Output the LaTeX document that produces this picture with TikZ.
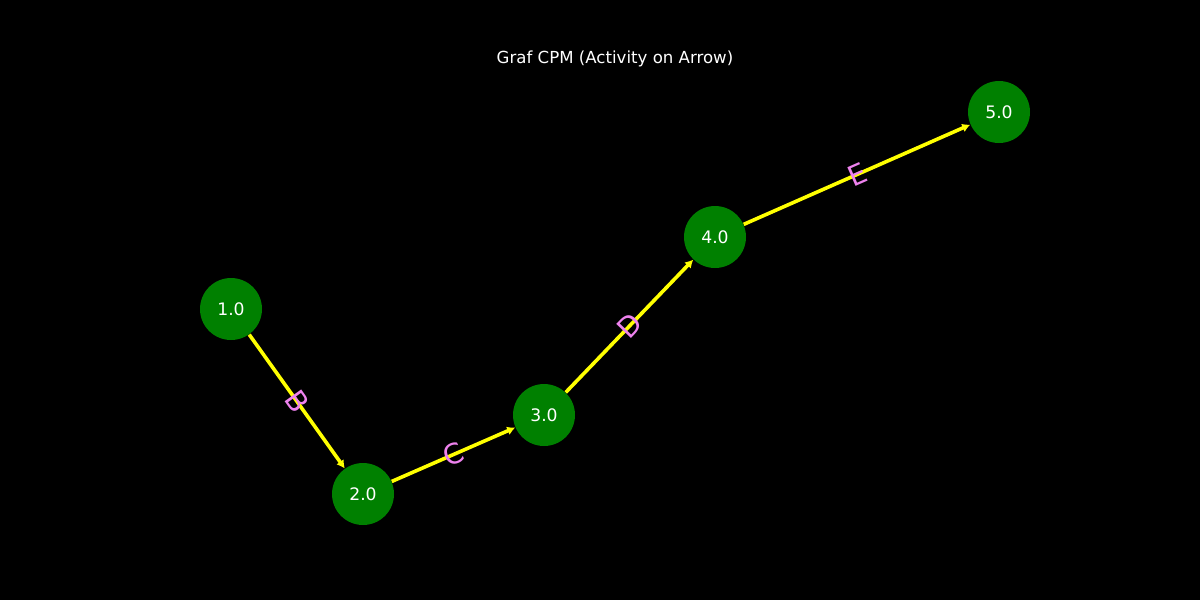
\documentclass[tikz,border=0pt]{standalone}
\usepackage{fontspec}
\setmainfont{DejaVu Sans}
\usetikzlibrary{arrows.meta}
\definecolor{nodegreen}{RGB}{0,128,0}
\definecolor{edgeyellow}{RGB}{255,255,0}
\definecolor{labelviolet}{RGB}{238,130,238}
\tikzset{
  event/.style={circle, fill=nodegreen, draw=none, minimum size=31pt, inner sep=0pt,
    text=white, font=\fontsize{8.6}{10}\selectfont},
  activity/.style={draw=edgeyellow, line width=1.8pt,
    -{Latex[length=4pt,width=4.5pt]}, shorten >=0pt},
  actlabel/.style={sloped, text=labelviolet, font=\fontsize{14}{16}\selectfont, inner sep=0pt},
  titletext/.style={text=white, font=\fontsize{8.3}{10}\selectfont}
}
\begin{document}
\begin{tikzpicture}[x=0.5pt,y=-0.5pt]
\fill[black] (0,0) rectangle (1200,600);
\useasboundingbox (0,0) rectangle (1200,600);
\node[titletext] (title) at (615,59) {Graf CPM (Activity on Arrow)};
\node[event] (n1) at (231,309) {1.0};
\node[event] (n2) at (363,494) {2.0};
\node[event] (n3) at (544,415) {3.0};
\node[event] (n4) at (715,237) {4.0};
\node[event] (n5) at (999,112) {5.0};
\draw[activity] (n1) -- node[actlabel] (lb) {B} (n2);
\draw[activity] (n2) -- node[actlabel] (lc) {C} (n3);
\draw[activity] (n3) -- node[actlabel] (ld) {D} (n4);
\draw[activity] (n4) -- node[actlabel] (le) {E} (n5);
\end{tikzpicture}
\end{document}
